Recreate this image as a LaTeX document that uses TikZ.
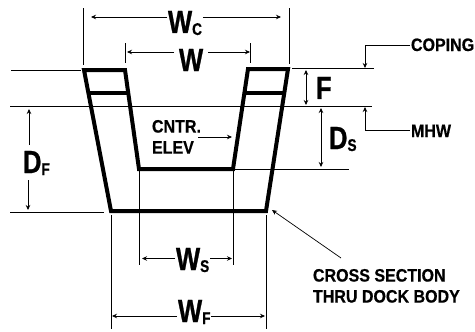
\documentclass[tikz,border=0pt]{standalone}
\usepackage{fontspec}
\setmainfont{Liberation Sans}
\newfontfamily\lblfont[FakeStretch=0.8,FakeBold=0.8]{Liberation Sans Bold}
\newfontfamily\notefont[FakeStretch=0.89,FakeBold=0.6]{Liberation Sans Bold}
\usetikzlibrary{arrows.meta}
\newcommand{\dimtxt}[2]{\fontsize{32}{32}\selectfont #1\raisebox{-2pt}{\fontsize{17}{17}\selectfont #2}}
\tikzset{
  wall/.style={line width=4pt, line join=miter},
  thinline/.style={line width=0.7pt},
  dimline/.style={line width=0.7pt, -{Stealth[length=5pt,width=4.5pt]}},
  lbl/.style={inner sep=0pt, outer sep=1pt, anchor=base west, font=\lblfont},
  note/.style={lbl, font=\notefont\fontsize{18}{21}\selectfont, align=left}
}
\begin{document}
\begin{tikzpicture}[x=1pt, y=-1pt]
\useasboundingbox (0,0) rectangle (475,332);
% section of the dock body
\coordinate (lt) at (84,70); \coordinate (li) at (125,70);
\coordinate (lf) at (139,169); \coordinate (rf) at (233,169);
\coordinate (ri) at (248,69); \coordinate (rt) at (288,69);
\coordinate (rb) at (266,211); \coordinate (lb) at (111,211);
\draw[wall] (lt) -- (li) -- (lf) -- (rf) -- (ri) -- (rt) -- (rb) -- (lb) -- cycle;
\coordinate (cl1) at (87,93); \coordinate (cl2) at (128,93);
\coordinate (cr1) at (245,93); \coordinate (cr2) at (284,93);
\draw[wall] (cl1) -- (cl2); \draw[wall] (cr1) -- (cr2);
% levels
\draw[thinline] (11,70) -- (81,70);
\draw[thinline] (292,68) -- (374,68);
\draw[thinline] (10,106) -- (372,106);
\draw[thinline] (rf) -- (349,169);
\draw[thinline] (10,212) -- (104,212);
% extension lines
\coordinate (wc1) at (83.5,8); \coordinate (wc2) at (83.5,65);
\coordinate (wc3) at (289,8); \coordinate (wc4) at (289,64);
\draw[thinline] (wc1) -- (wc2); \draw[thinline] (wc3) -- (wc4);
\coordinate (w1) at (125.5,43); \coordinate (w2) at (125.5,63);
\coordinate (w3) at (250.5,43); \coordinate (w4) at (250.5,63);
\draw[thinline] (w1) -- (w2); \draw[thinline] (w3) -- (w4);
\coordinate (ws1) at (139,171); \coordinate (ws2) at (139,265);
\coordinate (ws3) at (233,171); \coordinate (ws4) at (233,265);
\draw[thinline] (ws1) -- (ws2); \draw[thinline] (ws3) -- (ws4);
\coordinate (wf1) at (111.5,215); \coordinate (wf2) at (111.5,329);
\coordinate (wf3) at (266,215); \coordinate (wf4) at (266,329);
\draw[thinline] (wf1) -- (wf2); \draw[thinline] (wf3) -- (wf4);
% dimensions
\node[lbl] (Wc) at (167,33) {\dimtxt{W}{C}};
\draw[dimline] (Wc.west |- 0,17) -- (91,17);
\draw[dimline] (Wc.east |- 0,17) -- (281,17);
\node[lbl] (W) at (178,71) {\dimtxt{W}{}};
\draw[dimline] (W.west |- 0,52) ++(-4,0) -- (127,52);
\draw[dimline] (W.east |- 0,52) ++(4,0) -- (250,52);
\node[lbl] (F) at (315,99) {\dimtxt{F}{}};
\coordinate (f1) at (306,70); \coordinate (f2) at (306,105);
\draw[dimline, {Stealth[length=5pt,width=4.5pt]}-{Stealth[length=5pt,width=4.5pt]}] (f1) -- (f2);
\node[lbl] (Ds) at (328,149) {\dimtxt{D}{S}};
\coordinate (ds1) at (321,108); \coordinate (ds2) at (321,167);
\draw[dimline, {Stealth[length=5pt,width=4.5pt]}-{Stealth[length=5pt,width=4.5pt]}] (ds1) -- (ds2);
\node[lbl] (Df) at (22,173) {\dimtxt{D}{F}};
\coordinate (df1) at (29,145); \coordinate (df2) at (29,109);
\coordinate (df3) at (28,180); \coordinate (df4) at (28,210);
\draw[dimline] (df1) -- (df2); \draw[dimline] (df3) -- (df4);
\node[lbl] (Ws) at (175,270) {\dimtxt{W}{S}};
\draw[dimline] (Ws.west |- 0,258.5) -- (142,258.5);
\draw[dimline] (Ws.east |- 0,258.5) -- (232,258.5);
\node[lbl] (Wf) at (177,322) {\dimtxt{W}{F}};
\draw[dimline] (Wf.west |- 0,316) -- (112,316);
\draw[dimline] (Wf.east |- 0,316) -- (265,316);
% notes
\node[note] (coping) at (410,51) {COPING};
\coordinate (cp1) at (365,45); \coordinate (cp2) at (365,68);
\draw[dimline] (coping.west |- cp1) -- (cp1) -- (cp2);
\node[note] (mhw) at (410,137) {MHW};
\coordinate (mh1) at (365,130); \coordinate (mh2) at (365,107);
\draw[dimline] (mhw.west |- mh1) -- (mh1) -- (mh2);
\node[note, anchor=north west] (elev) at (151,119) {CNTR.\\ELEV};
\coordinate (ev1) at (198,137); \coordinate (ev2) at (232,137);
\draw[dimline] (ev1) -- (ev2);
\node[note, anchor=north west] (cross) at (312,268) {CROSS SECTION\\THRU DOCK BODY};
\coordinate (cs1) at (341,258); \coordinate (cs2) at (272,210);
\draw[dimline] (cs1) -- (cs2);
\end{tikzpicture}
\end{document}
